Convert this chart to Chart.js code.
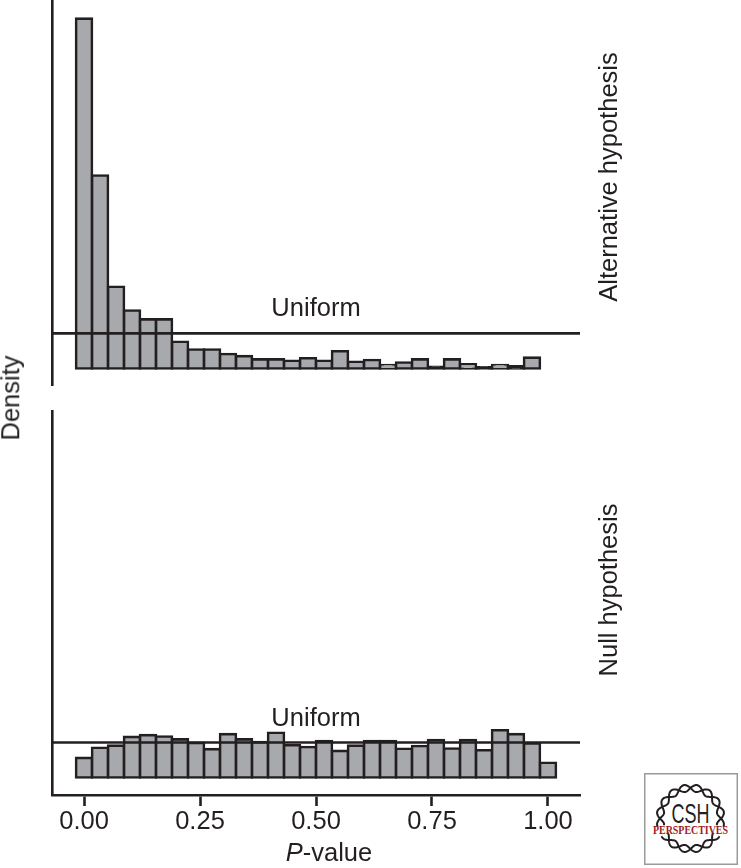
<!DOCTYPE html>
<html>
<head>
<meta charset="utf-8">
<script src="https://cdn.jsdelivr.net/npm/chart.js@4.4.0/dist/chart.umd.min.js"></script>
<style>
  html, body { margin: 0; padding: 0; background: #fff; }
  body {
    width: 741px; height: 868px; position: relative; overflow: hidden;
    font-family: "Liberation Sans", Arial, sans-serif; color: #231f20;
  }
  canvas { position: absolute; left: 0; }
  #topChart { top: 0; }
  #bottomChart { top: 410px; }
  .lbl { position: absolute; font-size: 25.5px; line-height: 1; white-space: nowrap; }
  .rot { transform: translate(-50%, -50%) rotate(-90deg); }
  #logo { position: absolute; left: 644px; top: 773px; }
</style>
</head>
<body>
<canvas id="topChart" width="741" height="386"></canvas>
<canvas id="bottomChart" width="741" height="458"></canvas>

<div class="lbl rot" style="left:609px; top:177px;">Alternative hypothesis</div>
<div class="lbl rot" style="left:609px; top:590px;">Null hypothesis</div>
<div class="lbl rot" style="left:11px; top:398px;">Density</div>
<div class="lbl" style="left:329px; top:840px; transform:translateX(-50%);"><i>P</i>-value</div>

<svg id="logo" width="94" height="92" viewBox="0 0 94 92">
  <rect x="0.75" y="0.75" width="92.5" height="90.5" fill="#fff" stroke="#9a9a9a" stroke-width="1.5"/>
  <g id="helix" fill="none" stroke="#231f20" stroke-width="2"></g>
  <text x="46.5" y="50" text-anchor="middle" font-family="Liberation Sans" font-size="28"
        textLength="38" lengthAdjust="spacingAndGlyphs" fill="#231f20">CSH</text>
  <text x="46.5" y="61" text-anchor="middle" font-family="Liberation Serif" font-size="13" font-weight="bold"
        textLength="75" lengthAdjust="spacingAndGlyphs" fill="#9e1b20">PERSPECTIVES</text>
</svg>

<script>
// ======== Dados ========
// centros das classes do histograma (30 classes, largura 1/29)
const binCenters = [0, 0.0345, 0.0690, 0.1034, 0.1379, 0.1724, 0.2069, 0.2414, 0.2759, 0.3103,
  0.3448, 0.3793, 0.4138, 0.4483, 0.4828, 0.5172, 0.5517, 0.5862, 0.6207, 0.6552,
  0.6897, 0.7241, 0.7586, 0.7931, 0.8276, 0.8621, 0.8966, 0.9310, 0.9655, 1.0];

// densidade - hipótese alternativa
const altDensity = [9.97, 5.50, 2.33, 1.65, 1.40, 1.40, 0.76, 0.54, 0.54, 0.41,
  0.35, 0.26, 0.26, 0.22, 0.29, 0.22, 0.49, 0.19, 0.24, 0.10,
  0.17, 0.26, 0.05, 0.26, 0.12, 0.03, 0.10, 0.06, 0.31, 0];

// densidade - hipótese nula
const nullDensity = [0.56, 0.85, 0.91, 1.16, 1.21, 1.17, 1.09, 0.99, 0.81, 1.24,
  1.09, 1.01, 1.28, 0.92, 0.87, 1.04, 0.76, 0.91, 1.04, 1.04,
  0.82, 0.90, 1.07, 0.83, 1.07, 0.78, 1.35, 1.24, 0.97, 0.42];

const xTicks = [0, 0.25, 0.5, 0.75, 1];
const xLimits = [-0.069, 1.069];
const yLimits = [-0.5, 10.5];
const uniformDensity = 1;
const uniformLabelAt = 0.5;

const INK = "#231f20";
const BAR = "#a7a9ac";

// ======== Rótulo "Uniform" ========
const uniformLabel = {
  id: "uniformLabel",
  afterDatasetsDraw(chart) {
    const { ctx, scales: { x, y } } = chart;
    ctx.save();
    ctx.font = '25.5px "Liberation Sans", Arial, sans-serif';
    ctx.fillStyle = INK;
    ctx.textAlign = "center";
    ctx.textBaseline = "alphabetic";
    ctx.fillText("Uniform", x.getPixelForValue(uniformLabelAt), y.getPixelForValue(uniformDensity) - 17);
    ctx.restore();
  },
};

function makePanel(id, values, showX) {
  const xScale = {
    type: "linear",
    min: xLimits[0],
    max: xLimits[1],
    offset: false,
    display: showX,
    afterBuildTicks: (s) => { s.ticks = xTicks.map((v) => ({ value: v })); },
    ticks: {
      callback: (v) => Number(v).toFixed(2),
      color: INK,
      font: { family: "Liberation Sans", size: 25.5, lineHeight: 1 },
      padding: 3,
      autoSkip: false,
      maxRotation: 0,
    },
    grid: {
      display: true, offset: false, drawOnChartArea: false, drawTicks: true,
      tickLength: 11, tickColor: INK, tickWidth: 2.6,
    },
    border: { display: true, color: INK, width: 2.6 },
  };
  if (showX) xScale.afterFit = (s) => { s.height = 73; };

  return new Chart(document.getElementById(id), {
    data: {
      datasets: [
        {
          type: "line",
          data: [{ x: xLimits[0], y: uniformDensity }, { x: xLimits[1], y: uniformDensity }],
          borderColor: INK,
          borderWidth: 2.6,
          pointRadius: 0,
          order: 0,
        },
        {
          type: "bar",
          data: binCenters.map((x, i) => ({ x: x, y: values[i] })),
          backgroundColor: (c) => (c.raw && c.raw.y < 0.08 ? INK : BAR),
          borderColor: INK,
          borderWidth: 2.6,
          borderSkipped: false,
          inflateAmount: 1.3,
          barPercentage: 1,
          categoryPercentage: 1,
          order: 1,
        },
      ],
    },
    options: {
      responsive: false,
      animation: false,
      devicePixelRatio: 1,
      layout: { padding: { left: 52, right: 161, top: 0, bottom: 0 } },
      plugins: { legend: { display: false }, tooltip: { enabled: false } },
      scales: {
        x: xScale,
        y: {
          min: yLimits[0],
          max: yLimits[1],
          display: true,
          grid: { display: false },
          ticks: { display: false },
          border: { display: true, color: INK, width: 2.6 },
          afterFit: (s) => { s.width = 0; },
        },
      },
    },
    plugins: [uniformLabel],
  });
}

makePanel("topChart", altDensity, false);
makePanel("bottomChart", nullDensity, true);

// ======== Logo (hélice) ========
function helixPath(t0, t1, phase) {
  const cx = 46.5, cy = 45.5, R = 30.5, a = 3.5, n = 8;
  let d = "";
  for (let i = 0; i <= 160; i++) {
    const t = t0 + ((t1 - t0) * i) / 160;
    const r = R + a * Math.sin(n * t + phase);
    d += (i ? "L" : "M") + (cx + r * Math.cos(t)).toFixed(2) + "," + (cy - r * Math.sin(t)).toFixed(2);
  }
  return d;
}
const helix = document.getElementById("helix");
[[-0.25, Math.PI + 0.25], [Math.PI + 0.55, 2 * Math.PI - 0.55]].forEach(([t0, t1]) => {
  [0, Math.PI].forEach((ph) => {
    const p = document.createElementNS("http://www.w3.org/2000/svg", "path");
    p.setAttribute("d", helixPath(t0, t1, ph));
    helix.appendChild(p);
  });
});
</script>
</body>
</html>
